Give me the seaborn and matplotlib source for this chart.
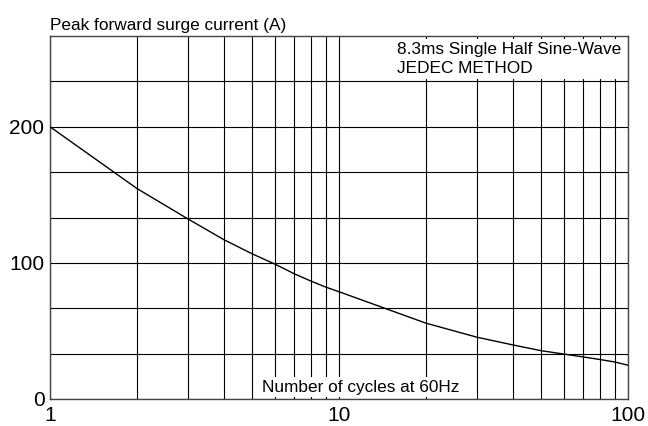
import numpy as np
import matplotlib
matplotlib.use("Agg")
import matplotlib.pyplot as plt
from matplotlib.ticker import FixedLocator, NullFormatter
import seaborn as sns

# values
cycles  = [1, 2, 3, 4, 5, 6, 7, 8, 9, 10, 20, 30, 40, 50, 60, 70, 80, 90, 100]
current = [200, 154.6, 132.3, 117, 106.7, 99.1, 92, 86.6, 82.2, 78.8,
           55.7, 45.4, 39.7, 35.5, 33, 30.9, 29, 27.2, 24.8]

x_major = [1, 10, 100]
x_minor = [2, 3, 4, 5, 6, 7, 8, 9, 20, 30, 40, 50, 60, 70, 80, 90]
x_labels = ["1", "10", "100"]
y_major = [0, 100, 200]
y_labels = ["0", "100", "200"]
y_step = 100 / 3
y_max = 8 * y_step

sns.set_theme(style="white")
plt.rcParams["font.family"] = ["Liberation Sans", "DejaVu Sans"]
plt.rcParams["text.color"] = "black"

fig = plt.figure(figsize=(6.48, 4.26), dpi=100)
ax = fig.add_axes([50 / 648, 27 / 426, 578 / 648, 363 / 426])

sns.lineplot(x=cycles, y=current, ax=ax, color="black", linewidth=1.0, zorder=3)

ax.set_xscale("log")
ax.set_xlim(1, 100)
ax.set_ylim(0, y_max)

ax.xaxis.set_major_locator(FixedLocator(x_major))
ax.xaxis.set_minor_locator(FixedLocator(x_minor))
ax.set_xticklabels(x_labels)
ax.xaxis.set_minor_formatter(NullFormatter())
ax.set_yticks(y_major)
ax.set_yticklabels(y_labels)
ax.yaxis.set_minor_locator(FixedLocator(np.arange(1, 8) * y_step))

ax.set_axisbelow(True)
ax.grid(True, which="both", color="black", linewidth=0.8)
ax.tick_params(axis="both", which="both", length=0, labelsize=15, colors="black")
ax.tick_params(axis="x", pad=5)
ax.tick_params(axis="y", pad=4)

for s in ax.spines.values():
    s.set_color("#444444")
    s.set_linewidth(1.0)

ax.set_xlabel("")
ax.set_ylabel("")
ax.set_title("Peak forward surge current (A)", loc="left", fontsize=12.4, pad=4, color="black")

box = dict(facecolor="white", edgecolor="none", pad=2)
ax.text(0.601, 0.983, "8.3ms Single Half Sine-Wave\nJEDEC METHOD", transform=ax.transAxes,
        ha="left", va="top", fontsize=12.4, linespacing=1.3, bbox=box, zorder=2)
ax.text(0.367, 0.012, "Number of cycles at 60Hz", transform=ax.transAxes,
        ha="left", va="bottom", fontsize=12.4, bbox=box, zorder=2)

plt.savefig("out.png", dpi=100)
